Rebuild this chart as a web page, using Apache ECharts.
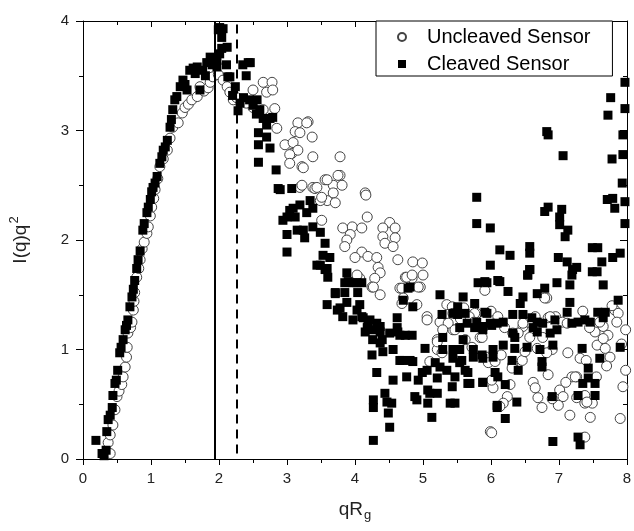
<!DOCTYPE html>
<html>
<head>
<meta charset="utf-8">
<script src="https://cdn.jsdelivr.net/npm/echarts@6/dist/echarts.min.js"></script>
<style>
html,body{margin:0;padding:0;background:#fff;}
#chart{width:634px;height:531px;}
</style>
</head>
<body>
<div id="chart"></div>
<script>
// x = qRg, y = I(q)q^2
const xTicks = [0, 1, 2, 3, 4, 5, 6, 7, 8];
const yTicks = [0, 1, 2, 3, 4];
const seriesNames = ['Uncleaved Sensor', 'Cleaved Sensor'];
const solidLineX = 1.94;
const dashedLineX = 2.26;

const uncleaved = [
[0.40,0.05],[0.37,0.15],[0.40,0.22],[0.44,0.31],[0.47,0.45],[0.50,0.57],[0.53,0.62],[0.57,0.68],[0.59,0.75],[0.62,0.84],
[0.64,0.93],[0.65,1.02],[0.66,1.15],[0.70,1.20],[0.72,1.25],[0.74,1.36],[0.75,1.44],[0.76,1.52],[0.79,1.66],[0.82,1.74],
[0.84,1.82],[0.87,1.92],[0.90,1.98],[0.94,2.06],[0.96,2.12],[0.99,2.22],[1.01,2.30],[1.04,2.38],[1.06,2.46],[1.10,2.56],
[1.13,2.67],[1.18,2.74],[1.24,2.82],[1.28,2.93],[1.32,3.03],[1.40,3.07],[1.46,3.16],[1.50,3.21],[1.55,3.24],[1.60,3.28],
[1.68,3.31],[1.72,3.40],[1.78,3.36],[1.84,3.39],[1.87,3.44],[1.91,3.49],[1.99,3.51],[2.06,3.46],[2.12,3.40],[2.16,3.35],
[2.21,3.28],[2.26,3.30],
[2.50,3.37],[2.65,3.44],[2.70,3.35],[2.78,3.44],[2.79,3.37],[2.82,3.20],[2.85,3.02],[2.50,3.21],[2.65,3.19],[2.40,3.25],
[3.16,3.07],[3.31,3.08],[3.29,3.07],[3.37,2.94],[3.12,2.99],[3.19,2.98],[2.97,2.87],[3.09,2.89],[3.07,2.79],[3.16,2.82],
[3.04,2.78],[3.22,2.67],[3.04,2.70],[3.38,2.76],[3.24,2.66],[3.19,2.48],[3.38,2.48],[3.78,2.76],[3.41,2.47],[3.56,2.55],
[3.68,2.50],[3.78,2.59],[3.75,2.59],[3.81,2.50],[3.59,2.55],[3.44,2.48],[3.22,2.50],[3.68,2.43],[3.59,2.36],[3.71,2.34],
[3.49,2.36],[3.51,2.39],[4.15,2.43],[4.16,2.41],[3.51,2.18],[4.18,2.21],[4.51,2.16],[4.59,2.11],[4.41,2.11],[3.82,2.11],
[3.96,2.12],[4.10,2.11],[3.93,2.05],[3.88,2.00],[3.85,1.94],[4.41,2.03],[4.59,2.02],[4.44,1.97],[4.56,1.94],[4.10,1.89],
[4.00,1.84],[4.19,1.85],[4.32,1.84],[4.63,1.82],[4.85,1.80],[4.99,1.79],[4.34,1.75],[4.37,1.70],[4.29,1.65],[4.07,1.65],
[4.25,1.57],[4.37,1.50],[4.66,1.56],[4.74,1.66],[4.84,1.65],[5.00,1.68],[4.96,1.57],[5.06,1.30],[4.69,1.42],[5.35,1.41],
[5.43,1.39],[5.29,1.24],[5.44,1.18],[5.21,1.09],
[4.03,1.68],[4.27,1.57],[4.76,1.66],[4.84,1.68],[4.69,1.56],[4.93,1.57],[4.71,1.47],[4.91,1.41],[5.06,1.27],[5.25,1.25],
[5.37,1.24],[5.47,1.18],[5.44,1.33],[5.79,1.33],[5.84,1.11],[5.62,1.09],[5.72,1.02],[5.96,0.93],[5.96,0.88],[5.21,1.00],
[5.10,0.89],[5.21,1.07],[5.29,1.18],[5.28,0.97],[5.91,1.54],[6.03,0.65],[5.99,0.25],[6.01,0.24],
[6.82,1.47],[5.76,1.33],[5.87,1.11],[6.84,1.29],[6.47,1.21],[6.57,1.11],[6.76,1.11],[6.68,1.01],[6.90,1.00],[6.82,0.97],
[7.13,0.97],[7.31,0.92],[7.53,1.16],[7.65,1.21],[7.72,1.13],[7.56,1.04],[7.68,1.01],[7.75,0.93],[7.82,1.36],[7.87,1.33],
[7.98,1.18],[7.98,0.81],[7.94,0.66],[6.06,0.89],[6.32,0.86],[6.46,0.90],[6.31,0.83],[6.01,0.72],[6.28,0.68],[6.24,0.57],
[6.18,0.51],[6.62,0.70],[6.65,0.65],[6.69,0.56],[6.75,0.47],[6.84,0.77],[7.01,0.63],[7.06,0.57],[6.99,0.49],[7.16,0.40],
[7.19,0.75],[7.26,0.75],[7.26,0.56],[7.38,0.58],[7.38,0.51],[7.49,0.51],[7.46,0.38],[7.38,0.20],[7.90,0.37],
[5.60,1.38],[5.68,1.30],[5.75,1.25],[5.55,1.28],[6.00,1.35],[6.10,1.30],[6.20,1.20],[6.40,1.15],[6.55,1.25],[6.65,1.30],
[6.95,1.30],[7.05,1.25],[7.35,1.35],[7.45,1.20],[7.60,1.25],[7.78,1.40],[7.85,1.25],[7.92,1.05],[6.15,0.95],[6.50,0.98],
[6.90,0.55],[7.10,0.70],[7.40,0.90],[7.70,0.85],[7.55,0.75],[6.13,0.48],[7.24,0.75],[7.41,0.52],[7.65,1.10],[7.12,1.24],
[6.87,1.30],[6.79,1.47],[6.47,1.24],[6.32,1.15]
];

const cleaved = [
[0.19,0.17],[0.28,0.05],[0.31,0.03],[0.34,0.08],[0.35,0.25],[0.37,0.36],[0.40,0.40],[0.43,0.47],[0.44,0.58],[0.47,0.69],
[0.49,0.72],[0.51,0.81],[0.54,0.97],[0.56,1.02],[0.59,1.09],[0.62,1.18],[0.64,1.22],[0.66,1.27],[0.69,1.39],[0.72,1.48],
[0.74,1.55],[0.76,1.63],[0.79,1.74],[0.81,1.82],[0.84,1.90],[0.88,2.09],[0.90,2.15],[0.94,2.25],[0.96,2.30],[0.99,2.37],
[1.01,2.44],[1.03,2.48],[1.06,2.52],[1.09,2.58],[1.13,2.70],[1.16,2.76],[1.18,2.82],[1.21,2.85],[1.24,2.91],[1.28,3.03],
[1.30,3.10],[1.32,3.19],[1.35,3.28],[1.38,3.31],[1.43,3.40],[1.47,3.46],[1.50,3.42],[1.53,3.37],[1.57,3.55],[1.62,3.57],
[1.65,3.52],[1.68,3.58],[1.72,3.37],[1.76,3.55],[1.80,3.50],[1.82,3.62],[1.87,3.67],[1.90,3.60],[1.97,3.64],[1.97,3.58],
[2.01,3.70],[2.04,3.85],[1.99,3.92],[2.06,3.93],[2.01,3.94],[2.04,3.75],[2.12,3.76],[2.11,3.60],[2.16,3.49],[2.13,3.49],
[2.35,3.60],[2.43,3.62],[2.46,3.62],[2.40,3.50],[2.20,3.32],[2.24,3.40],[2.31,3.25],[2.28,3.18],[2.36,3.30],[2.50,3.23],
[2.45,3.28],[2.55,3.15],[2.65,3.11],[2.75,3.11],[2.70,3.05],[2.58,2.98],[2.58,2.87],[2.75,2.84],[2.58,2.71],[2.84,2.64],
[2.87,2.47],[2.90,2.46],[3.07,2.47],[3.09,2.29],[3.34,2.36],[3.19,2.32],[3.04,2.27],[2.94,2.18],[3.38,2.29],[3.29,2.25],
[3.12,2.21],[3.15,2.09],[3.00,2.05],[3.26,2.02],[3.38,2.12],[3.49,2.07],[3.00,1.89],[3.56,1.97],[3.53,1.86],[3.63,1.84],
[3.44,1.77],[3.59,1.74],[3.60,1.66],[3.88,1.70],[3.90,1.62],[4.03,1.61],[3.71,1.52],[3.59,1.41],[3.85,1.52],[4.04,1.52],
[3.88,1.43],[4.07,1.41],[3.74,1.36],[3.82,1.30],[3.97,1.27],[4.12,1.29],[4.22,1.27],[4.18,1.20],[4.32,1.24],[4.37,1.16],
[4.62,1.29],[4.62,1.20],[4.66,1.13],[4.84,1.13],[4.51,1.15],[4.26,1.09],[4.37,1.06],[4.81,1.57],[4.71,1.45],[4.85,1.39],
[5.25,1.50],[5.28,1.32],[5.44,1.33],[5.29,1.11],[2.56,3.28],[2.60,3.19],[2.79,3.12],[2.70,2.94],[3.00,2.21],[3.24,2.09],
[3.56,1.73],[3.49,1.77],[3.71,1.51],[3.85,1.61],[3.97,1.61],[4.10,1.61],[3.78,1.38],[4.03,1.36],[4.10,1.30],[4.19,1.25],
[4.15,1.16],[4.26,1.18],[4.37,1.21],[4.40,1.09],[4.25,0.95],[4.41,0.98],[4.32,0.79],[4.56,1.00],[4.56,0.72],[4.63,1.16],
[4.66,0.90],[4.74,1.13],[4.81,0.90],[4.78,1.56],[4.76,0.75],[4.88,0.57],[4.91,0.54],
[4.27,0.54],[4.27,0.47],[4.44,0.60],[4.47,0.52],[4.49,0.42],[4.51,0.29],[4.54,0.51],[4.27,0.17],[4.69,0.90],[4.85,0.89],
[4.93,0.72],[5.03,1.01],[5.06,0.81],[4.99,0.79],[5.07,0.63],[5.07,0.51],[5.13,0.38],[5.18,0.88],[5.21,0.74],[5.10,0.60],
[5.21,0.60],[5.29,1.00],[5.25,0.84],[5.35,0.81],[5.44,1.00],[5.44,0.92],[5.47,0.75],[5.43,0.66],[5.40,0.51],[5.47,0.51],
[5.54,0.88],[5.51,1.39],[5.59,1.48],[5.51,1.32],[5.62,1.33],[5.65,1.24],[5.54,1.20],[5.76,1.42],[5.59,1.09],[5.54,1.00],
[5.57,0.90],[5.62,0.81],[5.66,0.79],[5.66,0.69],[5.74,1.00],[5.74,0.93],[5.87,0.95],[5.88,0.70],[5.79,1.25],[5.88,1.21],
[5.94,1.61],[5.81,1.61],[5.94,1.33],[6.01,1.22],[6.03,1.00],[6.03,0.93],[6.06,0.79],[6.09,0.49],[6.10,1.63],
[5.91,1.62],[6.13,1.62],[6.25,1.53],[6.54,1.68],[6.57,1.73],[6.47,1.48],[6.43,1.42],[6.68,1.51],[6.79,1.56],[6.97,1.61],
[7.16,1.59],[7.19,1.68],[7.20,1.73],[7.49,1.71],[7.56,1.71],[7.65,1.59],[7.16,1.43],[7.87,1.45],[5.91,1.34],
[5.99,1.24],[6.09,1.24],[6.18,1.25],[6.32,1.32],[6.47,1.32],[6.60,1.29],[6.68,1.25],[6.76,1.24],[6.62,1.20],[6.68,1.16],
[6.94,1.27],[6.87,1.15],[6.97,1.18],[7.12,1.34],[7.19,1.24],[7.28,1.25],[7.38,1.27],[7.46,1.25],[7.57,1.34],[7.68,1.34],
[7.65,1.29],[5.76,1.20],[5.88,1.18],[6.32,1.15],[6.35,1.11],
[5.88,0.92],[6.18,1.04],[6.35,1.01],[6.53,1.02],[6.72,1.00],[6.75,0.89],[6.75,0.84],[6.91,1.04],[6.31,0.90],[6.40,0.81],
[7.34,1.01],[7.60,0.92],[7.90,1.02],[7.43,0.83],[7.43,0.74],[7.35,0.69],[7.53,0.69],[7.28,0.58],[7.53,0.58],[6.10,0.75],
[6.21,0.68],[5.88,0.70],[6.09,0.47],[6.38,0.52],[6.21,0.37],[6.90,0.57],[6.91,0.16],[7.28,0.20],[7.31,0.13],[5.69,0.69],
[7.76,3.30],[7.72,3.14],[7.97,3.44],[7.97,3.20],[7.94,2.96],[7.94,2.78],[7.78,2.74],[7.93,2.52],[7.71,2.37],[7.79,2.38],
[7.82,2.29],[7.97,2.35],[7.97,2.15],[6.82,2.99],[6.84,2.96],[7.06,2.77],[5.79,2.39],[5.79,2.15],[5.99,2.11],[6.84,2.30],
[6.79,2.26],[7.04,2.28],[7.01,2.21],[7.01,2.14],[7.13,2.09],[7.09,2.03],[6.13,1.91],[6.28,1.86],[6.57,1.94],[6.57,1.88],
[6.99,1.84],[7.12,1.80],[7.26,1.75],[7.49,1.93],[7.57,1.93],[7.63,1.80],[7.79,1.84],[7.90,1.88],[5.99,1.77],[6.57,1.73],
[6.54,1.68]
];

const FONT = '"Liberation Sans", Arial, sans-serif';
const squarePath = 'path://M0 0H10V10H0Z';

const chart = echarts.init(document.getElementById('chart'), null, {renderer: 'canvas'});

function xAxisCfg(pos) {
  const bottom = pos === 'bottom';
  return {
    type: 'value', position: pos, min: xTicks[0], max: xTicks[xTicks.length - 1], interval: 1,
    axisLine: {show: true, onZero: false, lineStyle: {color: '#000', width: 1}},
    axisTick: {show: true, inside: !bottom, length: 6, lineStyle: {color: '#000', width: 1}},
    minorTick: {show: true, splitNumber: 2, length: 4, lineStyle: {color: '#000', width: 1}},
    axisLabel: {show: bottom, fontSize: 15, fontFamily: FONT, color: '#222', margin: 12},
    splitLine: {show: false},
    name: bottom ? '{a|qR}{s|g}' : '',
    nameLocation: 'middle', nameGap: 38,
    nameTextStyle: {
      fontFamily: FONT, color: '#222',
      rich: {a: {fontSize: 19, fontFamily: FONT, color: '#222'},
             s: {fontSize: 13, fontFamily: FONT, color: '#222', padding: [12, 0, 0, 1]}}
    }
  };
}
function yAxisCfg(pos) {
  const left = pos === 'left';
  return {
    type: 'value', position: pos, min: yTicks[0], max: yTicks[yTicks.length - 1], interval: 1,
    axisLine: {show: true, onZero: false, lineStyle: {color: '#000', width: 1}},
    axisTick: {show: true, inside: !left, length: 7, lineStyle: {color: '#000', width: 1}},
    minorTick: {show: true, splitNumber: 2, length: 4, lineStyle: {color: '#000', width: 1}},
    axisLabel: {show: left, fontSize: 15, fontFamily: FONT, color: '#222', margin: 14},
    splitLine: {show: false},
    name: left ? '{a|I(q)q}{s|2}' : '',
    nameLocation: 'middle', nameGap: 50, nameRotate: 90,
    nameTextStyle: {
      fontFamily: FONT, color: '#222',
      rich: {a: {fontSize: 19, fontFamily: FONT, color: '#222'},
             s: {fontSize: 13, fontFamily: FONT, color: '#222', padding: [0, 0, 12, 1]}}
    }
  };
}

chart.setOption({
  animation: false,
  backgroundColor: '#fff',
  grid: {left: 83, right: 7, top: 21, bottom: 72, outerBoundsMode: 'none', containLabel: false},
  xAxis: [xAxisCfg('bottom'), xAxisCfg('top')],
  yAxis: [yAxisCfg('left'), yAxisCfg('right')],
  legend: {
    orient: 'vertical', left: 376, top: 21,
    padding: [6, 22, 2, 21], itemGap: 7,
    itemWidth: 40, itemHeight: 8,
    borderColor: '#000', borderWidth: 1, backgroundColor: '#fff',
    textStyle: {fontSize: 20, fontFamily: FONT, color: '#000'},
    data: [{name: seriesNames[0], icon: 'circle'}, {name: seriesNames[1], icon: squarePath}]
  },
  series: [
    {
      name: seriesNames[0], type: 'scatter', xAxisIndex: 0, yAxisIndex: 0,
      symbol: 'circle', symbolSize: 10,
      itemStyle: {color: '#fff', borderColor: '#444', borderWidth: 1, opacity: 1},
      data: uncleaved, z: 2,
      markLine: {
        silent: true, symbol: ['none', 'none'], label: {show: false},
        data: [
          [{coord: [solidLineX, 0], lineStyle: {type: 'solid', width: 2, color: '#000'}}, {coord: [solidLineX, 4]}],
          [{coord: [dashedLineX, 0.05], lineStyle: {type: [9, 6], width: 2, color: '#000'}}, {coord: [dashedLineX, 4]}]
        ]
      }
    },
    {
      name: seriesNames[1], type: 'scatter', xAxisIndex: 0, yAxisIndex: 0,
      symbol: squarePath, symbolSize: 9,
      itemStyle: {color: '#000', opacity: 1},
      data: cleaved, z: 3
    }
  ]
});
</script>
</body>
</html>
